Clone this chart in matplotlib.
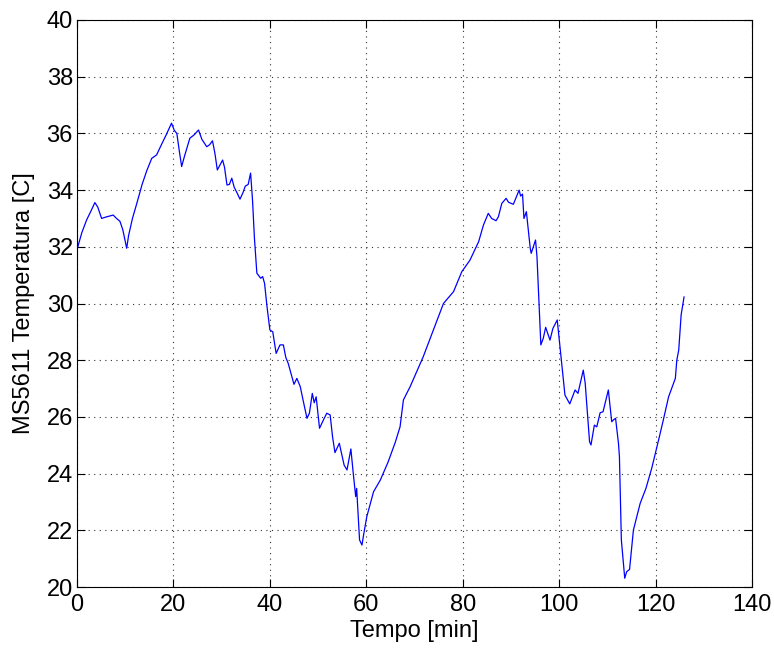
import matplotlib
matplotlib.use('Agg')
import matplotlib.pyplot as plt

# tempo [min] e temperatura [C]
tempo = [0, 1.0, 2.0, 3.0, 3.7, 4.3, 5.1, 6.0, 7.5, 8.2, 8.9, 9.5, 10.3, 10.7, 11.5, 12.4,
         13.5, 14.5, 15.5, 16.5, 17.5, 18.5, 19.6, 20.2, 20.7, 21.2, 21.7, 22.3, 23.4, 24.3,
         25.2, 25.9, 26.9, 27.5, 28.1, 28.6, 29.1, 30.2, 30.6, 31.1, 31.6, 32.1, 32.6, 33.2,
         33.8, 34.4, 34.9, 35.5, 36.0, 36.4, 36.8, 37.3, 38.1, 38.5, 38.9, 39.4, 40.0, 40.6,
         41.3, 42.1, 42.8, 43.3, 43.8, 45.0, 45.6, 46.3, 47.0, 47.7, 48.2, 48.8, 49.2, 49.6,
         50.3, 51.1, 51.8, 52.5, 53.0, 53.5, 54.4, 55.4, 56.0, 56.8, 57.3, 57.8, 58.0, 58.6,
         59.1, 59.5, 60.1, 61.5, 62.9, 64.5, 66.0, 67.0, 67.7, 69.1, 71.8, 74.0, 76.0, 78.1,
         79.8, 81.5, 83.3, 84.3, 85.3, 86.0, 86.9, 87.4, 88.1, 89.0, 89.5, 90.5, 91.0, 91.7,
         92.0, 92.4, 92.7, 93.2, 94.0, 94.2, 94.7, 95.1, 95.4, 96.2, 96.7, 97.2, 98.1, 98.7,
         99.3, 99.6, 100.6, 101.2, 102.2, 103.3, 103.9, 105.0, 105.4, 106.3, 106.6, 107.3,
         107.8, 108.5, 109.1, 110.2, 110.9, 111.3, 111.7, 112.3, 112.5, 112.9, 113.6, 114.0,
         114.6, 115.4, 116.8, 118.0, 119.2, 120.7, 121.6, 122.7, 124.1, 124.4, 124.8, 125.3,
         125.9]
temperatura = [31.9, 32.5, 32.95, 33.3, 33.56, 33.4, 33.0, 33.05, 33.12, 33.0, 32.9, 32.6,
               31.95, 32.4, 33.0, 33.53, 34.2, 34.7, 35.12, 35.24, 35.6, 35.95, 36.36, 36.1,
               36.0, 35.4, 34.83, 35.2, 35.83, 35.95, 36.12, 35.79, 35.53, 35.6, 35.74, 35.3,
               34.71, 35.06, 34.8, 34.18, 34.2, 34.42, 34.1, 33.9, 33.68, 33.9, 34.14, 34.2,
               34.6, 33.65, 32.3, 31.07, 30.89, 30.95, 30.71, 29.9, 29.07, 29.0, 28.24, 28.54,
               28.54, 28.1, 27.89, 27.15, 27.36, 27.07, 26.5, 25.95, 26.13, 26.83, 26.5, 26.71,
               25.6, 25.89, 26.13, 26.07, 25.3, 24.74, 25.07, 24.3, 24.13, 24.87, 24.0, 23.19,
               23.48, 21.66, 21.48, 21.9, 22.48, 23.36, 23.77, 24.4, 25.1, 25.65, 26.6, 27.07,
               28.12, 29.1, 30.0, 30.42, 31.12, 31.53, 32.18, 32.77, 33.18, 33.0, 32.92, 33.06,
               33.53, 33.71, 33.57, 33.5, 33.71, 34.0, 33.79, 33.86, 33.0, 33.24, 31.95, 31.77,
               32.03, 32.24, 31.65, 28.54, 28.77, 29.16, 28.71, 29.12, 29.32, 29.42, 27.77,
               26.77, 26.46, 26.95, 26.83, 27.65, 27.19, 25.13, 25.01, 25.71, 25.65, 26.15,
               26.18, 26.95, 25.83, 25.9, 25.95, 25.07, 24.6, 21.66, 20.31, 20.54, 20.62, 22.01,
               22.95, 23.48, 24.19, 25.24, 25.89, 26.71, 27.36, 28.0, 28.36, 29.6, 30.23]

xticks = [0, 20, 40, 60, 80, 100, 120, 140]
yticks = [20, 22, 24, 26, 28, 30, 32, 34, 36, 38, 40]

plt.rcParams['font.family'] = ['Liberation Sans', 'DejaVu Sans']

fig = plt.figure(figsize=(7.74, 6.49), dpi=100)
ax = fig.add_axes([0.0995, 0.0955, 0.8721, 0.8737])

ax.plot(tempo, temperatura, color='#0000ff', linewidth=0.9)

ax.set_xlim(0, 140)
ax.set_ylim(20, 40)
ax.set_xticks(xticks)
ax.set_yticks(yticks)
ax.tick_params(direction='in', top=True, right=True, labelsize=17, length=6, width=0.8)
ax.tick_params(axis='x', pad=5)
ax.tick_params(axis='y', pad=3)
ax.grid(True, linestyle=(0, (1, 4)), color='#333333', linewidth=0.8)
for s in ax.spines.values():
    s.set_linewidth(0.8)

ax.set_xlabel('Tempo [min]', fontsize=17, labelpad=3)
ax.set_ylabel('MS5611 Temperatura [C]', fontsize=17, labelpad=8)

fig.savefig('out.png', dpi=100)
